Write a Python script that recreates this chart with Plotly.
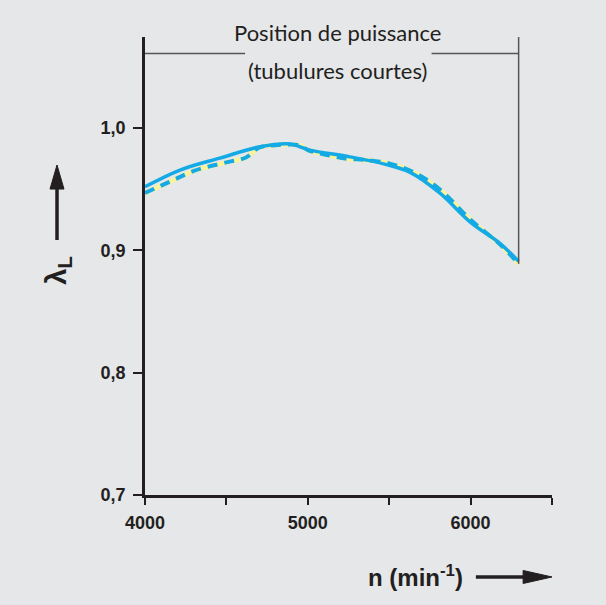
import plotly.graph_objects as go

# ---- data ----
rpm_solid = [4000, 4215, 4460, 4706, 4890, 5012, 5258, 5472, 5626, 5810, 6000, 6178, 6295]
lam_solid = [0.952, 0.9657, 0.9755, 0.9847, 0.987, 0.982, 0.9765, 0.9706, 0.964, 0.947, 0.923, 0.906, 0.891]

rpm_dash = [4000, 4150, 4300, 4500, 4620, 4700, 4800, 4950, 5000, 5117, 5240, 5350, 5503, 5650, 5810, 6000, 6180, 6295]
lam_dash = [0.947, 0.956, 0.965, 0.972, 0.976, 0.984, 0.986, 0.986, 0.982, 0.978, 0.975, 0.974, 0.971, 0.964, 0.950, 0.925, 0.905, 0.889]

y_ticks = [0.7, 0.8, 0.9, 1.0]
y_ticklabels = ["0,7", "0,8", "0,9", "1,0"]
x_ticks = [4000, 5000, 6000]
x_ticklabels = ["4000", "5000", "6000"]
x_minor_ticks = [4500, 5500, 6500]

bracket_start = 4000
bracket_end = 6295
bracket_level = 1.061
bracket_gap = [4615, 5760]
title_top = "Position de puissance"
title_bottom = "(tubulures courtes)"

BG = "#e6e7e9"
CYAN = "#13aae6"
YELLOW = "#fbf39a"
INK = "#231f20"
Y_MIN, Y_MAX = 0.7, 1.0745

fig = go.Figure()
fig.add_trace(go.Scatter(x=rpm_dash, y=lam_dash, mode="lines",
                         line=dict(color=YELLOW, width=4.5, shape="spline"),
                         hoverinfo="skip", showlegend=False))
fig.add_trace(go.Scatter(x=rpm_dash, y=lam_dash, mode="lines",
                         line=dict(color=CYAN, width=4, dash="10px,7px", shape="spline"),
                         showlegend=False))
fig.add_trace(go.Scatter(x=rpm_solid, y=lam_solid, mode="lines",
                         line=dict(color=CYAN, width=3.5, shape="spline"),
                         showlegend=False))

# bracket lines
fig.add_shape(type="line", xref="x", yref="y", x0=bracket_start, x1=bracket_gap[0],
              y0=bracket_level, y1=bracket_level, line=dict(color="#555555", width=1.5))
fig.add_shape(type="line", xref="x", yref="y", x0=bracket_gap[1], x1=bracket_end,
              y0=bracket_level, y1=bracket_level, line=dict(color="#555555", width=1.5))
fig.add_shape(type="line", xref="x", yref="paper", x0=bracket_end, x1=bracket_end,
              y0=(lam_dash[-1] - Y_MIN) / (Y_MAX - Y_MIN), y1=1,
              line=dict(color="#555555", width=1.5))

txt_font = dict(family="Lato, 'Open Sans', sans-serif", size=22, color=INK)
mid_x = 5185
fig.add_annotation(x=mid_x, y=bracket_level, xref="x", yref="y", text=title_top,
                   showarrow=False, yshift=21, font=txt_font)
fig.add_annotation(x=mid_x, y=bracket_level, xref="x", yref="y", text=title_bottom,
                   showarrow=False, yshift=-17, font=txt_font)

bold = dict(family="'Liberation Sans', Arial, sans-serif", size=18, color=INK, weight="bold")

# y-axis label
fig.add_annotation(x=-0.216, y=0.49, xref="paper", yref="paper", xanchor="center", yanchor="middle",
                   text="<b>λ<sub>L</sub></b>", textangle=-90, showarrow=False,
                   font=dict(family="'Liberation Sans', Arial, sans-serif", size=29, color=INK))
# y arrow (line + head)
ax_x = -0.2162
fig.add_shape(type="line", xref="paper", yref="paper", x0=ax_x, x1=ax_x, y0=0.5568, y1=0.675,
              line=dict(color=INK, width=3.5))
fig.add_shape(type="path", xref="paper", yref="paper",
              path=f"M {ax_x-0.0172} 0.668 L {ax_x+0.0172} 0.668 L {ax_x} 0.7205 Z",
              fillcolor=INK, line=dict(color=INK, width=1))

# x-axis label
fig.add_annotation(x=(415 - 145) / 407, y=-0.176, xref="paper", yref="paper",
                   xanchor="center", yanchor="middle",
                   text="<b>n (min<sup>-1</sup>)</b>", showarrow=False,
                   font=dict(family="'Liberation Sans', Arial, sans-serif", size=24, color=INK))
# x arrow (line + head)
ay_y = -0.179
fig.add_shape(type="line", xref="paper", yref="paper", x0=0.813, x1=0.935, y0=ay_y, y1=ay_y,
              line=dict(color=INK, width=3.5))
fig.add_shape(type="path", xref="paper", yref="paper",
              path=f"M 0.929 {ay_y-0.0142} L 0.929 {ay_y+0.0142} L 1.0 {ay_y} Z",
              fillcolor=INK, line=dict(color=INK, width=1))

fig.update_layout(
    width=606, height=605,
    margin=dict(l=145, r=54, t=37, b=110),
    paper_bgcolor=BG, plot_bgcolor=BG,
    showlegend=False,
    xaxis=dict(range=[4000, 6500], tickvals=x_ticks, ticktext=x_ticklabels,
               showgrid=False, zeroline=False, showline=True, linecolor=INK, linewidth=2.5,
               ticks="outside", ticklen=7, tickwidth=2, tickcolor=INK,
               tickfont=bold, ticklabelstandoff=3,
               minor=dict(tickvals=x_minor_ticks, ticks="outside", ticklen=7, tickwidth=2,
                          tickcolor=INK, showgrid=False)),
    yaxis=dict(range=[Y_MIN, Y_MAX], tickvals=y_ticks, ticktext=y_ticklabels,
               showgrid=False, zeroline=False, showline=True, linecolor=INK, linewidth=2.5,
               ticks="outside", ticklen=9, tickwidth=2, tickcolor=INK,
               tickfont=bold, ticklabelstandoff=4),
)

fig.write_html("out.html", config={"displayModeBar": False},
               post_script="document.body.style.margin='0';document.body.style.background='#e6e7e9';")
